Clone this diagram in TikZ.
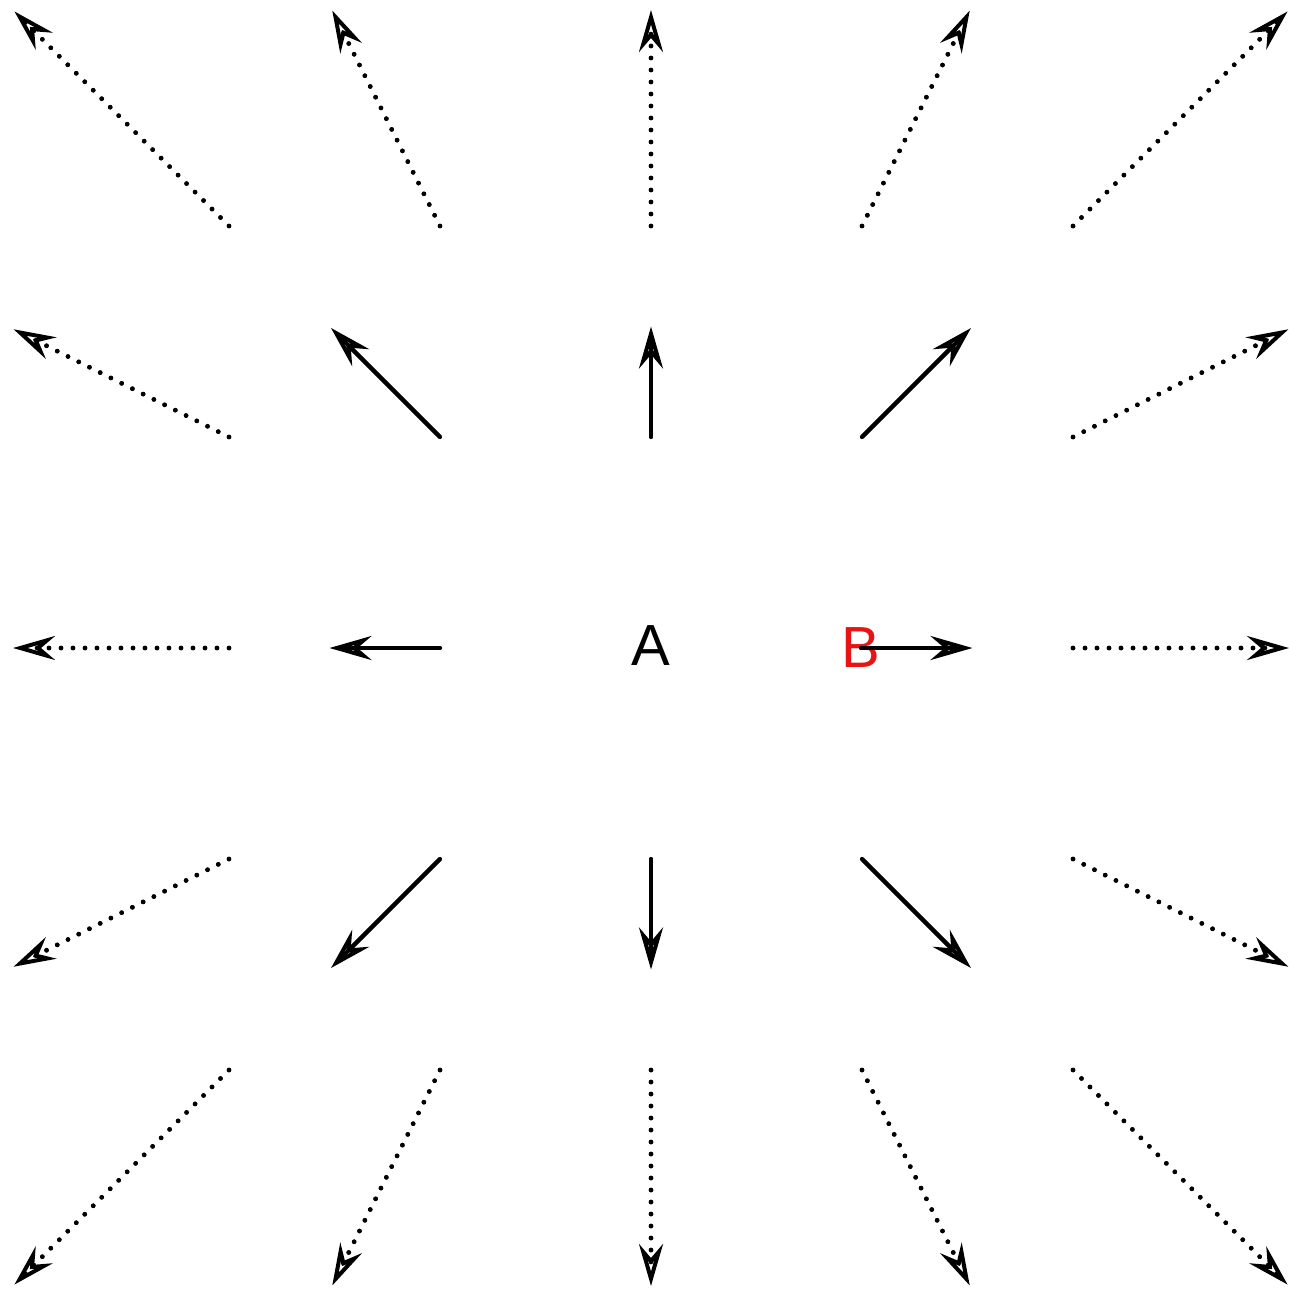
\documentclass[tikz,border=0pt]{standalone}
\usepackage{fontspec}
\setmainfont{Liberation Sans}
\usetikzlibrary{arrows.meta,calc}
\definecolor{bred}{RGB}{230,20,20}
\tikzset{
  shaft/.style={line width=2pt, line cap=round},
  dotshaft/.style={line width=2.3pt, line cap=round, dash pattern=on 0pt off 6pt},
  lineend/.style={shorten >=2pt},
  headtip/.style={shorten >=-2.5pt, -{Stealth[open, length=21pt, width=12pt, inset=7pt, line width=2pt]}},
  lbl/.style={inner sep=0pt, font=\fontsize{29}{29}\selectfont}
}
\begin{document}
\begin{tikzpicture}[x=0.5pt,y=-0.5pt]
\useasboundingbox (0,0) rectangle (1289,1291);
\node[lbl] (A) at (651,646) {A};
\node[lbl, text=bred] (B) at (861,648) {B};
\foreach \i in {-2,...,2}{
  \foreach \j in {-2,...,2}{
    \pgfmathtruncatemacro{\r}{max(abs(\i),abs(\j))}
    \pgfmathtruncatemacro{\a}{\i+2}
    \pgfmathtruncatemacro{\b}{\j+2}
    \coordinate (p\a\b) at ({651+211*\i},{648+211*\j});
    \coordinate (e\a\b) at ({651+1.5*211*\i},{648+1.5*211*\j});
    \ifnum\r=1
      \ifnum\a=3 \ifnum\b=2 \relax\else
        \draw[shaft, lineend] (p\a\b) -- (e\a\b);
        \draw[shaft, headtip] (p\a\b) -- (e\a\b);
      \fi\else
        \draw[shaft, lineend] (p\a\b) -- (e\a\b);
        \draw[shaft, headtip] (p\a\b) -- (e\a\b);
      \fi
    \fi
    \ifnum\r=2
      \draw[dotshaft, lineend] (p\a\b) -- (e\a\b);
      \draw[dotshaft, headtip] (p\a\b) -- (e\a\b);
    \fi
  }
}
\draw[shaft, lineend] (B.center) -- (e32);
\draw[shaft, headtip] (B.center) -- (e32);
\end{tikzpicture}
\end{document}
